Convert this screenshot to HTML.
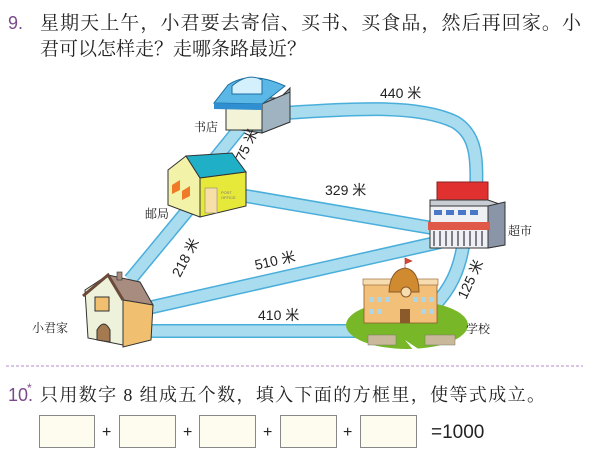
<!DOCTYPE html>
<html><head><meta charset="utf-8"><style>
body{margin:0;background:#fff;width:616px;height:470px;overflow:hidden}
svg{display:block}
.t{font-family:"Liberation Sans","Noto Sans CJK SC",sans-serif}
.c{font-family:"Liberation Serif","Noto Serif CJK SC",serif}
</style></head><body>
<svg width="616" height="470" viewBox="0 0 616 470" xmlns="http://www.w3.org/2000/svg">
<text x="8" y="29" class="t" font-size="18" fill="#7a4a8a">9.</text>
<text x="40" y="29" class="c" font-size="19" fill="#222" textLength="541" lengthAdjust="spacing">星期天上午，小君要去寄信、买书、买食品，然后再回家。小</text>
<text x="40" y="55" class="c" font-size="19" fill="#222" textLength="266" lengthAdjust="spacing">君可以怎样走？走哪条路最近？</text>

<g fill="none" stroke-linecap="butt">
<g stroke="#4aaedb" stroke-width="14">
<path d="M285 113 C360 108 420 105 455 122 C478 136 477 160 476 200"/>
<path d="M240 195 L432 228"/>
<path d="M240 128 L214 160"/>
<path d="M192 205 L130 280"/>
<path d="M148 308 L440 242"/>
<path d="M140 331 L365 331"/>
<path d="M464 240 C460 270 450 290 432 308"/>
</g>
<g stroke="#a9dcee" stroke-width="11">
<path d="M285 113 C360 108 420 105 455 122 C478 136 477 160 476 200"/>
<path d="M240 195 L432 228"/>
<path d="M240 128 L214 160"/>
<path d="M192 205 L130 280"/>
<path d="M148 308 L440 242"/>
<path d="M140 331 L365 331"/>
<path d="M464 240 C460 270 450 290 432 308"/>
</g>
</g>

<!-- bookstore -->
<g>
<path d="M226 98 L280 98 L290 88 L290 122 L262 133 L226 128 Z" fill="#8aa8b8" stroke="#333" stroke-width="1"/>
<rect x="226" y="104" width="36" height="26" fill="#f3f3d8" stroke="#333" stroke-width="1"/>
<path d="M262 104 L290 92 L290 122 L262 133 Z" fill="#9fb4c0" stroke="#333" stroke-width="1"/>
<path d="M228 85 Q250 70 285 86 L262 104 L214 103 Z" fill="#5bb8e6" stroke="#1c6ea0" stroke-width="1"/>
<path d="M232 86 Q248 72 262 80 L262 94 L232 94 Z" fill="#d4f0fc" stroke="#1c6ea0"/>
<path d="M214 103 L262 104 L262 110 L214 109 Z" fill="#2f8fd0"/>
</g>
<text x="194" y="131" class="c" font-size="12" fill="#222">书店</text>
<text x="0" y="0" class="t" font-size="14" fill="#222" transform="translate(244 162) rotate(-65)">75 米</text>
<text x="380" y="98" class="t" font-size="14" fill="#222">440 米</text>

<!-- post office -->
<g>
<path d="M168 170 L186 156 L200 178 L200 217 L168 205 Z" fill="#f2f2a8" stroke="#333"/>
<path d="M186 156 L232 153 L246 172 L200 178 Z" fill="#1fb0c8" stroke="#333"/>
<path d="M200 178 L246 172 L246 206 L200 217 Z" fill="#e6e83a" stroke="#333"/>
<rect x="205" y="188" width="12" height="25" fill="#f8dfa8" stroke="#777" stroke-width=".5"/>
<path d="M172 185 L180 180 L180 190 L172 194 Z M182 191 L190 186 L190 196 L182 200 Z" fill="#f07a28"/>
<text x="221" y="194" font-size="4" fill="#777" class="t">POST</text>
<text x="221" y="199" font-size="4" fill="#777" class="t">OFFICE</text>
</g>
<text x="145" y="218" class="c" font-size="12" fill="#222">邮局</text>
<text x="325" y="195" class="t" font-size="14" fill="#222">329 米</text>

<!-- supermarket -->
<g>
<rect x="437" y="182" width="51" height="22" fill="#e03030" stroke="#822"/>
<path d="M430 200 L488 200 L505 206 L505 245 L488 248 L430 244 Z" fill="#c8ccd4" stroke="#333"/>
<rect x="430" y="206" width="58" height="42" fill="#eef0f4" stroke="#333"/>
<path d="M488 206 L505 202 L505 245 L488 248 Z" fill="#8a95a8" stroke="#333"/>
<g fill="#4a78c8"><rect x="434" y="210" width="8" height="5"/><rect x="446" y="210" width="8" height="5"/><rect x="458" y="210" width="8" height="5"/><rect x="470" y="210" width="8" height="5"/></g>
<path d="M428 222 L490 222 L490 230 L428 230 Z" fill="#e05848"/>
<g stroke="#334" stroke-width="1.2"><path d="M434 231V246M440 231V246M446 231V246M452 231V246M458 231V246M464 231V246M470 231V246M476 231V246M482 231V246"/></g>
</g>
<text x="508" y="235" class="c" font-size="12" fill="#222">超市</text>

<text x="0" y="0" class="t" font-size="14" fill="#222" transform="translate(180 278) rotate(-62)">218 米</text>
<text x="0" y="0" class="t" font-size="14" fill="#222" transform="translate(256 270) rotate(-13)">510 米</text>
<text x="258" y="320" class="t" font-size="14" fill="#222">410 米</text>
<text x="0" y="0" class="t" font-size="14" fill="#222" transform="translate(466 300) rotate(-65)">125 米</text>

<!-- home -->
<g>
<path d="M85 290 L108 275 L123 300 L123 345 L88 338 Z" fill="#eef2da" stroke="#333"/>
<path d="M108 275 L140 282 L153 305 L123 300 Z" fill="#a88c80" stroke="#333"/>
<path d="M123 300 L153 305 L151 340 L123 347 Z" fill="#f0c070" stroke="#333"/>
<path d="M83 296 L108 275 L123 300" fill="none" stroke="#6a4a38" stroke-width="3"/>
<rect x="95" y="297" width="14" height="14" fill="#f0c070" stroke="#333"/>
<path d="M97 330 Q104 318 110 330 L110 342 L97 340 Z" fill="#a57a50" stroke="#333"/>
<rect x="117" y="272" width="5" height="8" fill="#a88c80" stroke="#333" stroke-width=".6"/>
</g>
<text x="32" y="332" class="c" font-size="12" fill="#222">小君家</text>

<!-- school -->
<g>
<ellipse cx="407" cy="325" rx="61" ry="24" fill="#78b828"/>
<path d="M405 340 L420 350 L415 352 Z" fill="#fff"/>
<rect x="364" y="283" width="73" height="40" fill="#f3c07a" stroke="#8a5a2a" stroke-width=".8"/>
<rect x="363" y="279" width="75" height="6" fill="#f7dcb0" stroke="#8a5a2a" stroke-width=".6"/>
<path d="M389 292 Q390 270 405 268 Q419 270 419 292 Z" fill="#d08a30" stroke="#8a5a2a"/>
<circle cx="406" cy="292" r="5" fill="#f7dcb0" stroke="#8a5a2a"/>
<path d="M405 268 L405 258 L412 261 L405 264" fill="#d84a30" stroke="#a33" stroke-width=".6"/>
<g fill="#aad6e8"><rect x="369" y="297" width="5" height="5"/><rect x="377" y="297" width="5" height="5"/><rect x="385" y="297" width="5" height="5"/><rect x="413" y="297" width="5" height="5"/><rect x="421" y="297" width="5" height="5"/><rect x="429" y="297" width="5" height="5"/><rect x="369" y="309" width="5" height="5"/><rect x="377" y="309" width="5" height="5"/><rect x="421" y="309" width="5" height="5"/><rect x="429" y="309" width="5" height="5"/></g>
<rect x="400" y="309" width="10" height="14" fill="#8a5a2a"/>
<rect x="368" y="335" width="28" height="10" fill="#c9b89a" stroke="#776" stroke-width=".5"/>
<rect x="425" y="335" width="30" height="10" fill="#c9b89a" stroke="#776" stroke-width=".5"/>
</g>
<text x="466" y="333" class="c" font-size="12" fill="#222">学校</text>

<line x1="6" y1="366" x2="583" y2="366" stroke="#b68cc4" stroke-width="1" stroke-dasharray="3,2"/>

<text x="8" y="401" class="t" font-size="18" fill="#7a4a8a">10.</text>
<text x="27" y="392" class="t" font-size="12" fill="#7a4a8a">*</text>
<text x="40" y="401" class="c" font-size="18" fill="#222" textLength="505" lengthAdjust="spacing">只用数字 8 组成五个数，填入下面的方框里，使等式成立。</text>

<g fill="#fefcee" stroke="#888" stroke-width="1">
<rect x="39.5" y="415.5" width="55" height="32"/>
<rect x="119.5" y="415.5" width="56" height="32"/>
<rect x="199.5" y="415.5" width="56" height="32"/>
<rect x="280.5" y="415.5" width="56" height="32"/>
<rect x="360.5" y="415.5" width="56" height="32"/>
</g>
<g class="t" font-size="16" fill="#222">
<text x="102" y="437">+</text><text x="183" y="437">+</text><text x="263" y="437">+</text><text x="343" y="437">+</text>
<text x="431" y="438" font-size="19">=1000</text>
</g>
</svg>
</body></html>
